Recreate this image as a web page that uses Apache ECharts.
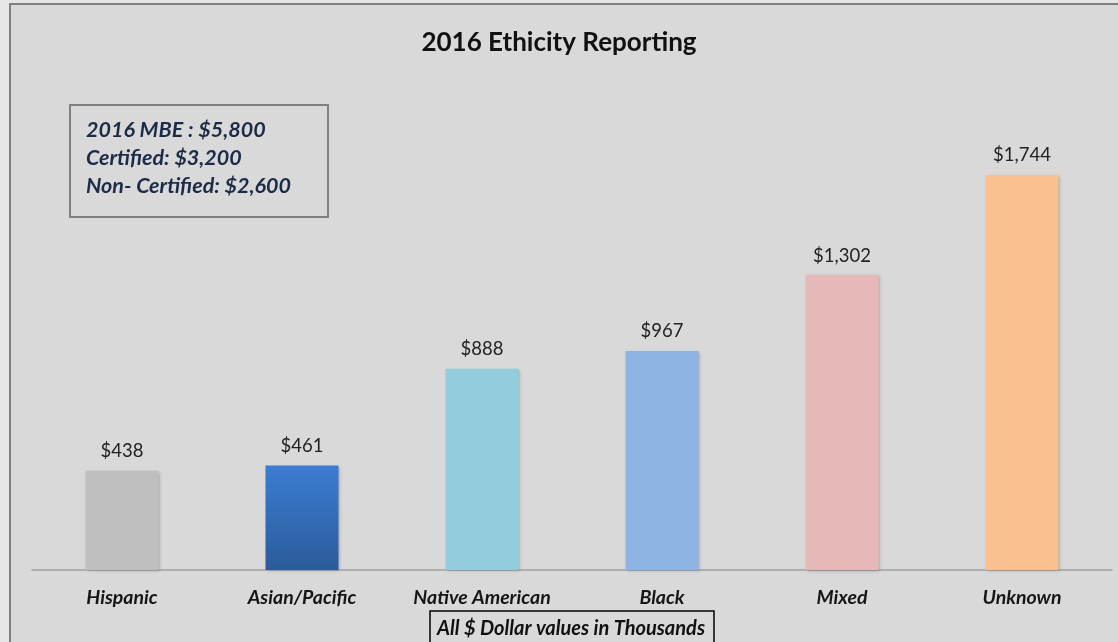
<!DOCTYPE html>
<html>
<head>
<meta charset="utf-8">
<script src="https://cdn.jsdelivr.net/npm/echarts@6/dist/echarts.min.js"></script>
<style>
  html, body { margin: 0; padding: 0; background: #e6e6e6; }
  #chart { width: 1118px; height: 642px; }
</style>
</head>
<body>
<div id="chart"></div>
<script>
// data
var categories = ["Hispanic", "Asian/Pacific", "Native American", "Black", "Mixed", "Unknown"];
var values = [438, 461, 888, 967, 1302, 1744];
var summaryLines = ["2016 MBE : $5,800", "Certified: $3,200", "Non- Certified: $2,600"];

var barColors = [
  "#bfbfbf",
  new echarts.graphic.LinearGradient(0, 0, 0, 1, [
    { offset: 0, color: "#3b7dd3" },
    { offset: 1, color: "#2b5b9a" }
  ]),
  "#93cddd",
  "#8eb4e3",
  "#e6b9b8",
  "#fac08f"
];

var font = "Lato, 'Open Sans', sans-serif";

var myChart = echarts.init(document.getElementById("chart"), null, { renderer: "canvas" });

var option = {
  backgroundColor: "#e6e6e6",
  animation: false,
  title: {
    text: "2016 Ethicity Reporting",
    left: "center",
    top: 25,
    textStyle: { fontFamily: font, fontSize: 26, fontWeight: "bold", color: "#111" }
  },
  grid: { left: 32, right: 6, top: 117, bottom: 72 },
  xAxis: {
    type: "category",
    data: categories,
    axisTick: { show: false },
    axisLine: { lineStyle: { color: "#a0a0a0", width: 1.5 } },
    axisLabel: {
      margin: 18,
      fontFamily: font,
      fontSize: 19.5,
      fontWeight: "bold",
      fontStyle: "italic",
      color: "#161616"
    }
  },
  yAxis: {
    type: "value",
    min: 0,
    max: 2000,
    show: false,
    splitLine: { show: false }
  },
  series: [
    {
      type: "bar",
      barWidth: 73,
      data: values.map(function (v, i) {
        return { value: v, itemStyle: { color: barColors[i] } };
      }),
      itemStyle: {
        shadowBlur: 3,
        shadowColor: "rgba(0,0,0,0.25)",
        shadowOffsetX: 1,
        shadowOffsetY: 1
      },
      label: {
        show: true,
        position: "top",
        distance: 10,
        fontFamily: font,
        fontSize: 18.5,
        color: "#222",
        formatter: function (p) {
          return "$" + p.value.toLocaleString("en-US");
        }
      }
    }
  ],
  graphic: [
    {
      type: "rect",
      z: -10,
      shape: { x: 10, y: 4, width: 1120, height: 650 },
      style: { fill: "#d9d9d9", stroke: "#808080", lineWidth: 2 }
    },
    {
      type: "rect",
      z: 10,
      shape: { x: 70, y: 105, width: 258, height: 112 },
      style: { fill: "none", stroke: "#808080", lineWidth: 2 }
    },
    {
      type: "group",
      z: 11,
      children: summaryLines.map(function (t, i) {
        return {
          type: "text",
          x: 86,
          y: 130 + i * 28,
          style: {
            text: t,
            fill: "#1c2b48",
            font: "italic bold 21.5px " + font,
            verticalAlign: "middle"
          }
        };
      })
    },
    {
      type: "rect",
      z: 10,
      shape: { x: 430, y: 611, width: 284, height: 40 },
      style: { fill: "#d9d9d9", stroke: "#000", lineWidth: 1.5 }
    },
    {
      type: "text",
      z: 11,
      x: 571,
      y: 629,
      style: {
        text: "All $ Dollar values in Thousands",
        fill: "#111",
        font: "italic bold 20px " + font,
        align: "center",
        verticalAlign: "middle"
      }
    }
  ]
};

myChart.setOption(option, true);
</script>
</body>
</html>
